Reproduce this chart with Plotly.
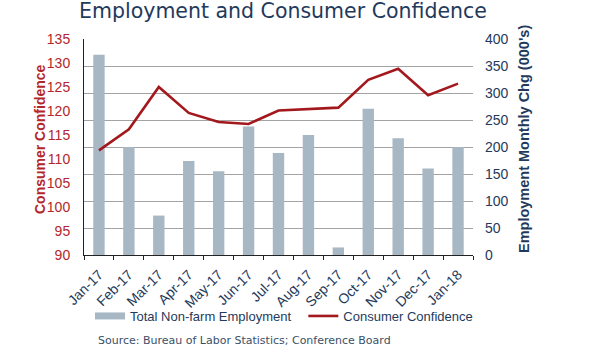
import plotly.graph_objects as go

months = ["Jan-17", "Feb-17", "Mar-17", "Apr-17", "May-17", "Jun-17", "Jul-17",
          "Aug-17", "Sep-17", "Oct-17", "Nov-17", "Dec-17", "Jan-18"]
employment = [371, 200, 73, 174, 155, 238, 189, 222, 14, 271, 216, 160, 200]
confidence = [111.8, 116.2, 125.0, 119.6, 117.7, 117.3, 120.1, 120.4, 120.7,
              126.5, 128.8, 123.3, 125.7]
conf_ticks = [90, 95, 100, 105, 110, 115, 120, 125, 130, 135]
emp_ticks = [0, 50, 100, 150, 200, 250, 300, 350, 400]

NAVY = "#1f3a5c"
RED_TXT = "#b3262c"
RED_LINE = "#a3181d"
BAR = "#a7b7c4"

W, H = 610, 347
L, R, T, B = 84, 137, 39, 92
pw, ph = W - L - R, H - T - B

def px_x(x):
    return (x - L) / pw

def px_y(y):
    return (H - B - y) / ph

fig = go.Figure()
fig.add_trace(go.Bar(x=months, y=employment, yaxis="y", marker_color=BAR,
                     marker_line_width=0, name="Total Non-farm Employment",
                     showlegend=False))
# legend-only entry for the bars (wide flat swatch like the reference)
fig.add_trace(go.Scatter(x=[None], y=[None], mode="lines", yaxis="y",
                         line=dict(color=BAR, width=7),
                         name="Total Non-farm Employment\u00a0\u00a0"))
fig.add_trace(go.Scatter(x=months, y=confidence, yaxis="y2", mode="lines",
                         line=dict(color=RED_LINE, width=2.6),
                         name="Consumer Confidence"))

tickfont = dict(family="Liberation Sans, Arial, sans-serif", size=14)

fig.update_layout(
    width=W, height=H,
    margin=dict(l=L, r=R, t=T, b=B, autoexpand=False),
    paper_bgcolor="white", plot_bgcolor="white",
    bargap=0.62,
    showlegend=True,
    legend=dict(orientation="h", x=px_x(90), xanchor="left",
                y=px_y(316), yanchor="middle",
                font=dict(family="Liberation Sans, Arial, sans-serif", size=13, color=NAVY),
                bgcolor="rgba(0,0,0,0)", traceorder="normal"),
    xaxis=dict(type="category", showline=True, linecolor="#222", linewidth=1,
               ticks="outside", tickson="boundaries", ticklen=4, tickcolor="#222",
               tickangle=-45, ticklabelstandoff=5,
               tickfont=dict(family="Liberation Sans, Arial, sans-serif",
                             size=14, color=NAVY),
               showgrid=False, automargin=False),
    yaxis=dict(side="right", range=[0, 400], tickvals=emp_ticks,
               showgrid=True, gridcolor="#a3a3a3", gridwidth=1,
               showline=False, zeroline=False, ticks="",
               tickfont=dict(tickfont, color=NAVY), ticklabelstandoff=11,
               automargin=False),
    yaxis2=dict(side="left", overlaying="y", range=[90, 135], tickvals=conf_ticks,
                showgrid=False, zeroline=False, showline=True, linecolor="#222",
                linewidth=1, ticks="",
                tickfont=dict(tickfont, color=RED_TXT), ticklabelstandoff=10,
                automargin=False),
    title=dict(text="Employment and Consumer Confidence",
               font=dict(family="DejaVu Sans, sans-serif", size=20.5, color=NAVY),
               xref="container", x=283 / W, xanchor="center",
               yref="container", y=1 - 11 / H, yanchor="middle"),
)

fig.add_annotation(text="<b>Consumer Confidence</b>", textangle=-90,
                   xref="paper", yref="paper", x=px_x(39.5), y=px_y(139.5),
                   xanchor="center", yanchor="middle", showarrow=False,
                   font=dict(family="Liberation Sans, Arial, sans-serif", size=14, color=RED_TXT))
fig.add_annotation(text="<b>Employment Monthly Chg (000's)</b>", textangle=-90,
                   xref="paper", yref="paper", x=px_x(524), y=px_y(139),
                   xanchor="center", yanchor="middle", showarrow=False,
                   font=dict(family="Liberation Sans, Arial, sans-serif", size=14.5, color=NAVY))
fig.add_annotation(text="Source: Bureau of Labor Statistics; Conference Board",
                   xref="paper", yref="paper", x=px_x(96), y=px_y(340),
                   xanchor="left", yanchor="middle", showarrow=False,
                   font=dict(family="DejaVu Sans, sans-serif", size=11, color="#3b4f68"))

fig.write_html("out.html")
